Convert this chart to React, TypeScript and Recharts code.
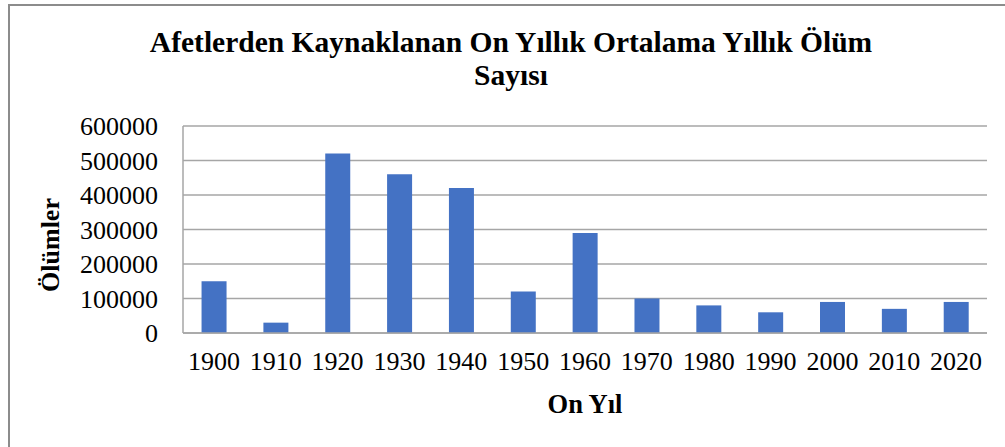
import React from "react";
import { Bar, BarChart, CartesianGrid, XAxis, YAxis } from "recharts";

const decades = ["1900", "1910", "1920", "1930", "1940", "1950", "1960", "1970", "1980", "1990", "2000", "2010", "2020"];
const deaths = [150000, 30000, 520000, 460000, 420000, 120000, 290000, 100000, 80000, 60000, 90000, 70000, 90000];
const yTicks = [0, 100000, 200000, 300000, 400000, 500000, 600000];

const data = decades.map((decade, i) => ({ decade, deaths: deaths[i] }));

const serif = '"Liberation Serif", "Times New Roman", serif';
const grid = "#a6a6a6";

export default function App() {
  return (
    <div style={{ position: "absolute", left: 0, top: 0, width: 1005, height: 447, background: "#fff", fontFamily: serif, overflow: "hidden" }}>
      <div style={{ position: "absolute", left: 8, top: 4, width: 1100, height: 600, borderLeft: "2px solid #8c8c8c", borderTop: "2px solid #8c8c8c" }} />
      <div
        style={{
          position: "absolute",
          left: 0,
          width: 1022,
          top: 26,
          textAlign: "center",
          fontWeight: "bold",
          fontSize: 29.5,
          lineHeight: "33px",
          color: "#000",
          whiteSpace: "nowrap",
        }}
      >
        Afetlerden Kaynaklanan On Yıllık Ortalama Yıllık Ölüm
        <br />
        Sayısı
      </div>
      <div
        style={{
          position: "absolute",
          left: 51,
          top: 245,
          transform: "translate(-50%, -50%) rotate(-90deg)",
          fontWeight: "bold",
          fontSize: 26,
          whiteSpace: "nowrap",
        }}
      >
        Ölümler
      </div>
      <div style={{ position: "absolute", left: 585, top: 404, transform: "translate(-50%, -50%)", fontWeight: "bold", fontSize: 26.5, whiteSpace: "nowrap" }}>
        On Yıl
      </div>
      <BarChart
        width={1005}
        height={447}
        data={data}
        margin={{ top: 126, right: 18, bottom: 0, left: 0 }}
        barCategoryGap="30%"
        style={{ position: "absolute", left: 0, top: 0 }}
      >
        <CartesianGrid vertical={false} stroke={grid} strokeWidth={1.5} />
        <XAxis
          dataKey="decade"
          height={114}
          axisLine={{ stroke: grid, strokeWidth: 1.5 }}
          tickLine={false}
          tickSize={0}
          tickMargin={19}
          tick={{ fill: "#000", fontSize: 26, fontFamily: serif }}
          interval={0}
        />
        <YAxis
          width={183}
          domain={[0, 600000]}
          ticks={yTicks}
          interval={0}
          axisLine={{ stroke: grid, strokeWidth: 1.5 }}
          tickLine={false}
          tickSize={0}
          tickMargin={25}
          tick={{ fill: "#000", fontSize: 26, fontFamily: serif }}
        />
        <Bar dataKey="deaths" fill="#4472c4" isAnimationActive={false} />
      </BarChart>
    </div>
  );
}
